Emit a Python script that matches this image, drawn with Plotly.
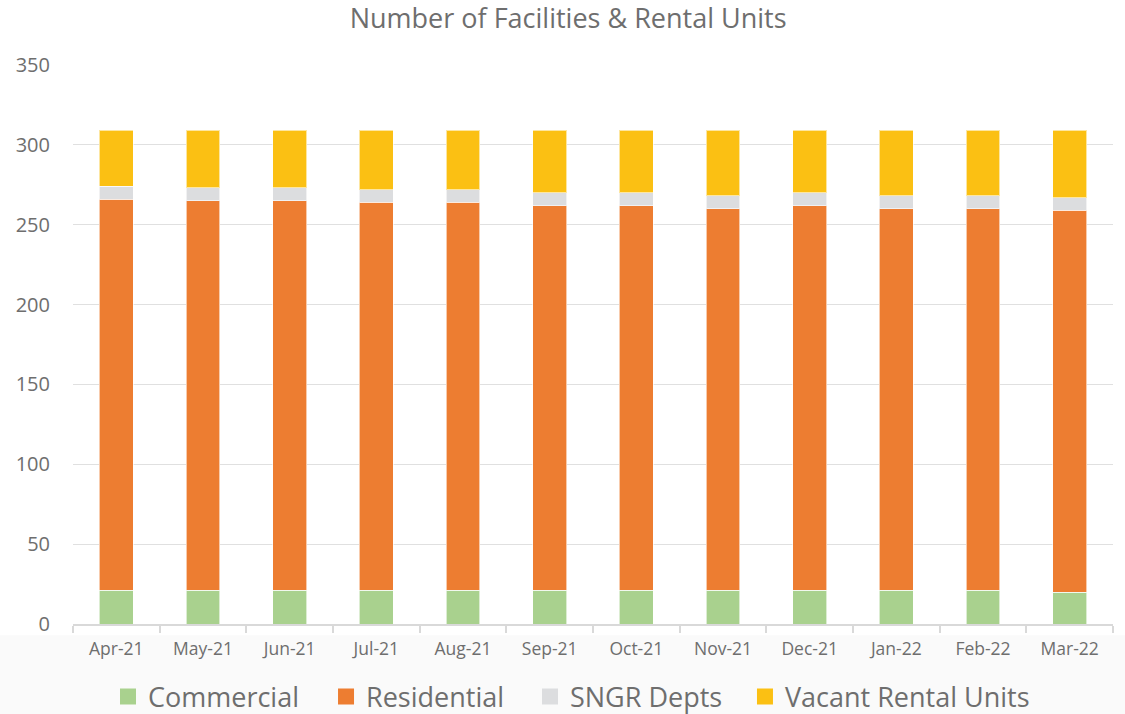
import plotly.graph_objects as go

months = ["Apr-21", "May-21", "Jun-21", "Jul-21", "Aug-21", "Sep-21",
          "Oct-21", "Nov-21", "Dec-21", "Jan-22", "Feb-22", "Mar-22"]
commercial = [21, 21, 21, 21, 21, 21, 21, 21, 21, 21, 21, 20]
residential = [245, 244, 244, 243, 243, 241, 241, 239, 241, 239, 239, 239]
sngr = [8, 8, 8, 8, 8, 8, 8, 8, 8, 8, 8, 8]
vacant = [35, 36, 36, 37, 37, 39, 39, 41, 39, 41, 41, 42]

series = [
    ("Commercial", commercial, "#A9D18E"),
    ("Residential", residential, "#ED7D31"),
    ("SNGR Depts", sngr, "#DCDDDF"),
    ("Vacant Rental Units", vacant, "#FBC013"),
]
legend_ids = ["legend", "legend2", "legend3", "legend4"]
legend_x = [0.0960, 0.2898, 0.4711, 0.6622]

fig = go.Figure()
for name, vals, color in series:
    fig.add_trace(go.Bar(
        x=months, y=vals, name=name, showlegend=False,
        marker=dict(color=color, line=dict(color="rgba(255,255,255,0.6)", width=1)),
    ))
# legend entries with larger square symbols
for (name, vals, color), lid in zip(series, legend_ids):
    fig.add_trace(go.Scatter(
        x=[None], y=[None], mode="markers", name=name, legend=lid,
        marker=dict(symbol="square", size=17, color=color),
    ))

fig.add_shape(type="rect", xref="paper", yref="paper", x0=-0.2, x1=1.2,
              y0=-0.3, y1=-0.02, fillcolor="#FAFAFA", line=dict(width=0),
              layer="below")

legend_common = dict(orientation="h", xanchor="left", xref="container", yref="container",
                     y=0.024, yanchor="middle", bgcolor="rgba(0,0,0,0)",
                     font=dict(size=27, color="#6E6E6E"),
                     itemsizing="trace", itemwidth=30)

fig.update_layout(
    barmode="stack",
    bargap=0.61,
    width=1125, height=714,
    paper_bgcolor="white", plot_bgcolor="rgba(0,0,0,0)",
    font=dict(family="Open Sans", color="#7F7F7F"),
    margin=dict(l=73, r=12, t=65, b=90, autoexpand=False),
    title=dict(text="Number of Facilities & Rental Units", x=0.505, xanchor="center",
               y=0.974, yanchor="middle", font=dict(size=27, color="#6E6E6E")),
    xaxis=dict(showgrid=False, showline=True, linecolor="#D9D9D9", linewidth=1.5,
               ticks="outside", ticklen=7, tickcolor="#D9D9D9", tickwidth=1.5,
               tickson="boundaries", automargin=False, ticklabelstandoff=8,
               tickfont=dict(size=17.5, color="#6E6E6E")),
    yaxis=dict(range=[0, 350], dtick=50, showgrid=True, gridcolor="#E0E0E0", gridwidth=1.3,
               zeroline=False, showline=False, ticks="", ticklabelstandoff=22,
               automargin=False, tickfont=dict(size=20, color="#6E6E6E")),
)
fig.update_layout({lid: dict(legend_common, x=lx) for lid, lx in zip(legend_ids, legend_x)})

fig.write_html("out.html", config={"displayModeBar": False},
               post_script="document.body.style.margin='0';")
